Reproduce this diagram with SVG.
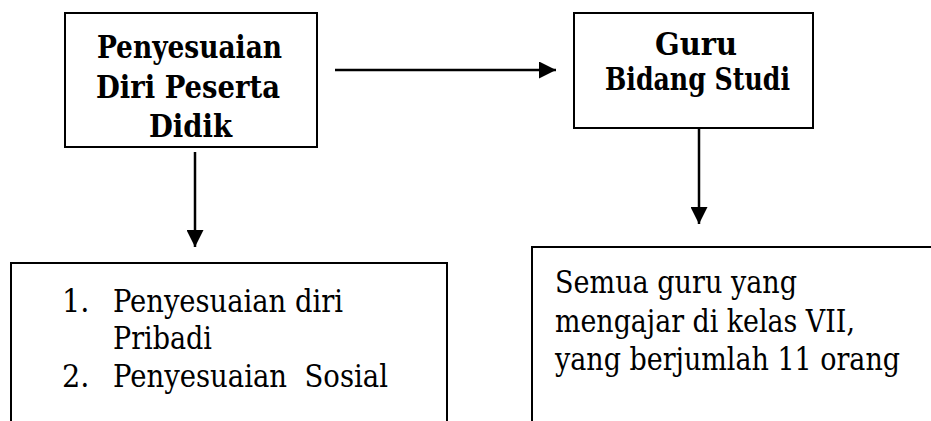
<svg xmlns="http://www.w3.org/2000/svg" width="931" height="421" viewBox="0 0 931 421">
<style>
.box{fill:#fff;stroke:#000;stroke-width:2}
.b{font-family:'DejaVu Serif Condensed','DejaVu Serif',serif;font-weight:bold;font-size:32px;fill:#000}
.r{font-family:'DejaVu Serif Condensed','DejaVu Serif',serif;font-size:32px;fill:#000}
.c{stroke:#000;stroke-width:2.5;fill:none}
</style>
<defs>
<marker id="ah" markerUnits="userSpaceOnUse" markerWidth="18" markerHeight="17" refX="17" refY="8.5" orient="auto">
<path d="M0,0 L17,8.5 L0,17 z" fill="#000"/>
</marker>
</defs>
<rect width="931" height="421" fill="#fff"/>
<g id="node-penyesuaian">
<rect class="box" x="65" y="13" width="252" height="134"/>
<text class="b" x="97" y="58" textLength="185" lengthAdjust="spacingAndGlyphs">Penyesuaian</text>
<text class="b" x="96" y="98" textLength="184" lengthAdjust="spacingAndGlyphs">Diri Peserta</text>
<text class="b" x="149" y="137" textLength="83" lengthAdjust="spacingAndGlyphs">Didik</text>
</g>
<g id="node-guru">
<rect class="box" x="574" y="13" width="239" height="115"/>
<text class="b" x="655" y="55" textLength="82" lengthAdjust="spacingAndGlyphs">Guru</text>
<text class="b" x="605" y="90" textLength="185" lengthAdjust="spacingAndGlyphs">Bidang Studi</text>
</g>
<g id="node-list">
<path class="box" d="M11,421 V263 H447 V421" />
<text class="r" x="62" y="312">1.</text>
<text class="r" x="113" y="312" textLength="230" lengthAdjust="spacingAndGlyphs">Penyesuaian diri</text>
<text class="r" x="113" y="349" textLength="99" lengthAdjust="spacingAndGlyphs">Pribadi</text>
<text class="r" x="62" y="387">2.</text>
<text class="r" x="113" y="387" textLength="275" lengthAdjust="spacingAndGlyphs" xml:space="preserve">Penyesuaian  Sosial</text>
</g>
<g id="node-semua">
<path class="box" d="M532,421 V247 H931" />
<text class="r" x="555" y="293" textLength="242" lengthAdjust="spacingAndGlyphs">Semua guru yang</text>
<text class="r" x="555" y="332" textLength="300" lengthAdjust="spacingAndGlyphs">mengajar di kelas VII,</text>
<text class="r" x="555" y="370" textLength="345" lengthAdjust="spacingAndGlyphs">yang berjumlah 11 orang</text>
</g>
<g id="connectors">
<line class="c" x1="335" y1="70" x2="556" y2="70" marker-end="url(#ah)"/>
<line class="c" x1="195" y1="152" x2="195" y2="247" marker-end="url(#ah)"/>
<line class="c" x1="699" y1="128" x2="699" y2="224" marker-end="url(#ah)"/>
</g>
</svg>
